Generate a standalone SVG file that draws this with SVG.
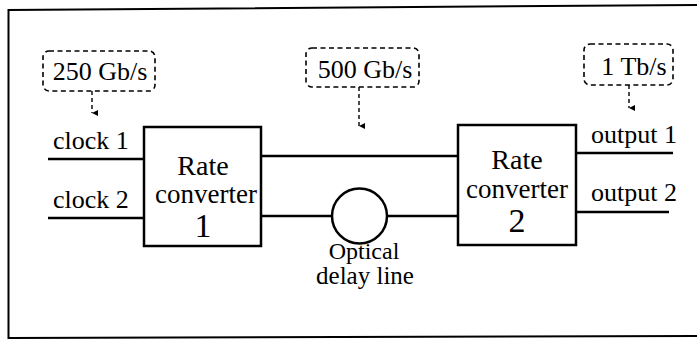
<svg xmlns="http://www.w3.org/2000/svg" width="698" height="341" viewBox="0 0 698 341">
<style>
.t{font-family:'Liberation Serif','Times New Roman','DejaVu Serif',serif;font-size:26px;fill:#000}
.c{text-anchor:middle}
.box{fill:#fff;stroke:#000;stroke-width:2.5}
.ln{fill:none;stroke:#000;stroke-width:2.5}
.dash{fill:#fff;stroke:#000;stroke-width:1.6;stroke-dasharray:5 3.5}
.darr{fill:none;stroke:#000;stroke-width:1.4;stroke-dasharray:4 3}
</style>
<defs>
<marker id="ah" markerWidth="6" markerHeight="8" refX="3" refY="7" orient="auto-start-reverse" markerUnits="userSpaceOnUse" viewBox="0 0 6 8">
<path d="M0,1 L3,7 L6,1 Z" fill="#000"/>
</marker>
</defs>
<rect width="698" height="341" fill="#fff"/>
<g id="frame">
<path d="M697,5 L8.5,10 L8.5,338 L697,336" fill="none" stroke="#000" stroke-width="2"/>
</g>
<g id="connectors">
<line class="ln" x1="48" y1="159" x2="144" y2="159"/>
<line class="ln" x1="48" y1="218" x2="144" y2="218"/>
<line class="ln" x1="261" y1="156" x2="458" y2="156"/>
<line class="ln" x1="261" y1="216" x2="332" y2="216"/>
<line class="ln" x1="387" y1="216" x2="458" y2="216"/>
<line class="ln" x1="576" y1="153" x2="673" y2="153"/>
<line class="ln" x1="576" y1="212" x2="669" y2="212"/>
<line class="darr" x1="92" y1="91" x2="92" y2="113" marker-end="url(#ah)"/>
<line class="darr" x1="359" y1="87" x2="359" y2="126" marker-end="url(#ah)"/>
<line class="darr" x1="629" y1="85" x2="629" y2="108" marker-end="url(#ah)"/>
</g>
<g id="label-clock1"><text class="t" x="53" y="149">clock 1</text></g>
<g id="label-clock2"><text class="t" x="53" y="208">clock 2</text></g>
<g id="label-output1"><text class="t" x="591" y="143">output 1</text></g>
<g id="label-output2"><text class="t" x="591" y="201">output 2</text></g>
<g id="rate-250">
<rect class="dash" x="43" y="51" width="112" height="40" rx="6"/>
<text class="t c" x="100" y="80">250 Gb/s</text>
</g>
<g id="rate-500">
<rect class="dash" x="306" y="48" width="113" height="39" rx="6"/>
<text class="t c" x="365" y="78">500 Gb/s</text>
</g>
<g id="rate-1t">
<rect class="dash" x="584" y="44" width="89" height="41" rx="6"/>
<text class="t c" x="634" y="75">1 Tb/s</text>
</g>
<g id="converter1">
<rect class="box" x="144" y="127" width="117" height="119"/>
<text class="t c" x="203" y="175" style="font-size:28px">Rate</text>
<text class="t c" x="206" y="203" style="font-size:27px">converter</text>
<text class="t c" x="203" y="237" style="font-size:34px">1</text>
</g>
<g id="converter2">
<rect class="box" x="458" y="125" width="118" height="120"/>
<text class="t c" x="517" y="169" style="font-size:28px">Rate</text>
<text class="t c" x="517" y="198" style="font-size:27px">converter</text>
<text class="t c" x="517" y="232" style="font-size:34px">2</text>
</g>
<g id="delay-line">
<circle cx="359.5" cy="216" r="27.5" fill="#fff" stroke="#000" stroke-width="2.5"/>
<text class="t c" x="364" y="259" style="font-size:24px">Optical</text>
<text class="t c" x="365" y="284" style="font-size:25px">delay line</text>
</g>
</svg>
